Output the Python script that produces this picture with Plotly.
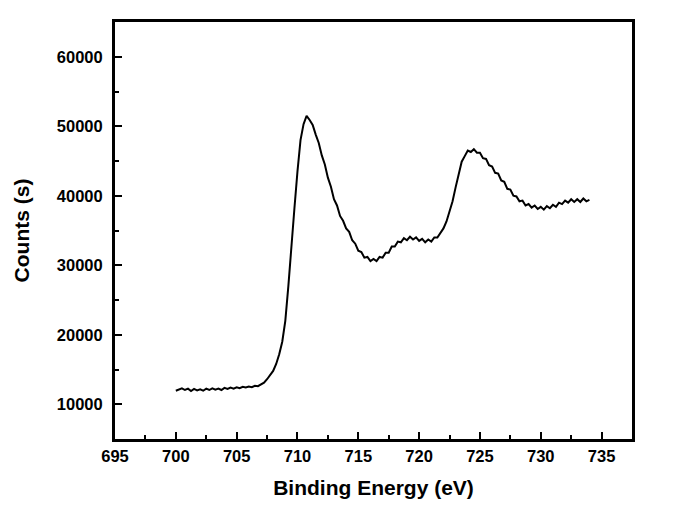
import plotly.graph_objects as go

binding_energy = [
    700.00, 700.25, 700.50, 700.75, 701.00, 701.25, 701.50, 701.75, 702.00, 702.25,
    702.50, 702.75, 703.00, 703.25, 703.50, 703.75, 704.00, 704.25, 704.50, 704.75,
    705.00, 705.25, 705.50, 705.75, 706.00, 706.25, 706.50, 706.75, 707.00, 707.25,
    707.50, 707.75, 708.00, 708.25, 708.50, 708.75, 709.00, 709.25, 709.50, 709.75,
    710.00, 710.25, 710.50, 710.75, 711.00, 711.25, 711.50, 711.75, 712.00, 712.25,
    712.50, 712.75, 713.00, 713.25, 713.50, 713.75, 714.00, 714.25, 714.50, 714.75,
    715.00, 715.25, 715.50, 715.75, 716.00, 716.25, 716.50, 716.75, 717.00, 717.25,
    717.50, 717.75, 718.00, 718.25, 718.50, 718.75, 719.00, 719.25, 719.50, 719.75,
    720.00, 720.25, 720.50, 720.75, 721.00, 721.25, 721.50, 721.75, 722.00, 722.25,
    722.50, 722.75, 723.00, 723.25, 723.50, 723.75, 724.00, 724.25, 724.50, 724.75,
    725.00, 725.25, 725.50, 725.75, 726.00, 726.25, 726.50, 726.75, 727.00, 727.25,
    727.50, 727.75, 728.00, 728.25, 728.50, 728.75, 729.00, 729.25, 729.50, 729.75,
    730.00, 730.25, 730.50, 730.75, 731.00, 731.25, 731.50, 731.75, 732.00, 732.25,
    732.50, 732.75, 733.00, 733.25, 733.50, 733.75, 734.00,
]

counts = [
    11950, 12150, 12300, 12050, 12250, 11900, 12200, 12000, 12150, 11950,
    12250, 12050, 12300, 12100, 12250, 12050, 12350, 12200, 12400, 12250,
    12450, 12300, 12500, 12400, 12550, 12450, 12650, 12600, 12800, 13100,
    13600, 14150, 14800, 15800, 17200, 19000, 22000, 27000, 33000, 38200,
    43500, 48000, 50300, 51500, 50900, 50200, 48800, 47600, 45800, 44500,
    42600, 41300, 39500, 38600, 37100, 36400, 35300, 34800, 33600, 33100,
    32100, 31900, 31100, 31200, 30600, 30900, 30600, 31200, 31100, 31800,
    31800, 32700, 32700, 33400, 33300, 33900, 33600, 34100, 33700, 34000,
    33500, 33800, 33300, 33700, 33400, 34000, 34000, 34700, 35300, 36300,
    37600, 39200, 41200, 43200, 44900, 45700, 46500, 46300, 46700, 46200,
    46200, 45400, 45300, 44400, 44200, 43300, 43200, 42200, 42000, 41000,
    40900, 40000, 39900, 39200, 39300, 38600, 38800, 38300, 38600, 38100,
    38400, 38000, 38500, 38200, 38700, 38400, 39000, 38800, 39300, 39000,
    39500, 39100, 39500, 39100, 39600, 39200, 39400,
]

x_range = [695, 737.5]
y_range = [5000, 65000]

fig = go.Figure()
fig.add_trace(go.Scatter(
    x=binding_energy, y=counts, mode="lines",
    line=dict(color="black", width=2),
    showlegend=False,
))

tick_font = dict(family="Liberation Sans, Arial, sans-serif", size=16.5, color="black", weight="bold")
title_font = dict(family="Liberation Sans, Arial, sans-serif", size=21, color="black", weight="bold")

fig.update_layout(
    width=696, height=520,
    margin=dict(l=107, r=72, t=14, b=89),
    paper_bgcolor="white", plot_bgcolor="white",
    xaxis=dict(
        range=x_range, tick0=695, dtick=5, automargin=False,
        showgrid=False, zeroline=False,
        showline=True, linecolor="black", linewidth=3, mirror=True,
        ticks="inside", ticklen=7, tickwidth=2, tickcolor="black",
        minor=dict(ticks="inside", ticklen=4, tickwidth=2, tickcolor="black", dtick=2.5, showgrid=False),
        tickfont=tick_font,
        title=dict(text="Binding Energy (eV)", font=title_font, standoff=17),
    ),
    yaxis=dict(
        range=y_range, tick0=0, dtick=10000, tickformat="d", automargin=False,
        showgrid=False, zeroline=False,
        showline=True, linecolor="black", linewidth=3, mirror=True,
        ticks="inside", ticklen=7, tickwidth=2, tickcolor="black",
        minor=dict(ticks="inside", ticklen=4, tickwidth=2, tickcolor="black", dtick=5000, showgrid=False),
        tickfont=tick_font, ticklabelstandoff=6,
        title=dict(text="Counts (s)", font=title_font, standoff=22),
    ),
)

fig.write_html("out.html")
